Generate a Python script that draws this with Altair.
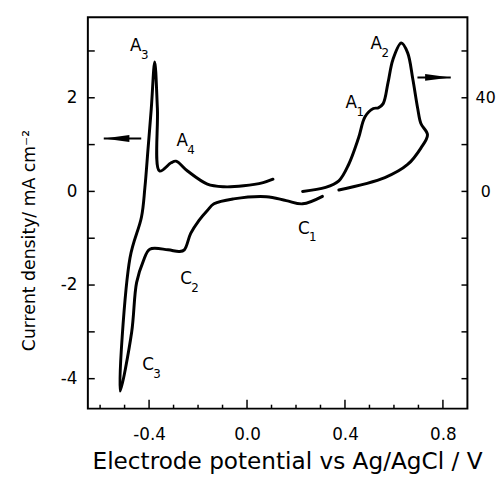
import altair as alt
import pandas as pd

# ---------------- data ----------------
# left-axis segment (mA cm-2), in sweep order
left_potential = [0.308, 0.227, 0.160, 0.079, -0.055, -0.135, -0.162, -0.196, -0.230,
                  -0.256, -0.276, -0.323, -0.397, -0.424, -0.451, -0.471, -0.518,
                  -0.478, -0.431, -0.417, -0.404, -0.391, -0.377, -0.366, -0.357,
                  -0.310, -0.290, -0.243, -0.162, -0.095, -0.014, 0.066, 0.106]
left_current = [-0.105, -0.265, -0.196, -0.112, -0.160, -0.265, -0.406, -0.617, -0.897,
                -1.248, -1.284, -1.248, -1.234, -1.495, -1.949, -3.002, -4.265,
                -1.423, -0.547, 0.084, 0.926, 1.768, 2.766, 1.768, 0.436,
                0.611, 0.646, 0.436, 0.156, 0.099, 0.120, 0.189, 0.261]

# right-axis segment, in sweep order
right_potential = [0.227, 0.321, 0.375, 0.415, 0.455, 0.482, 0.516, 0.536, 0.556, 0.576,
                   0.596, 0.630, 0.656, 0.677, 0.697, 0.710, 0.737, 0.710, 0.656, 0.563,
                   0.375]
right_current = [0.0, 1.7, 4.5, 11.5, 22.7, 31.9, 35.4, 35.7, 37.5, 46.6,
                 56.4, 63.4, 59.2, 48.0, 35.4, 29.0, 24.2, 18.5, 11.5, 5.9,
                 0.6]

# peak labels (position in left-axis units)
peak_letter = ["A", "A", "A", "A", "C", "C", "C"]
peak_sub = ["1", "2", "3", "4", "1", "2", "3"]
peak_x = [0.426, 0.528, -0.454, -0.265, 0.232, -0.249, -0.404]
peak_y = [1.89, 3.15, 3.10, 1.07, -0.796, -1.87, -3.72]

# arrows (which axis each branch belongs to)
left_arrow_x = [-0.585, -0.432]
left_arrow_y = [1.13, 1.13]
right_arrow_x = [0.832, 0.696]
right_arrow_y = [48.7, 48.7]

# axes ticks
x_major = [-0.4, 0.0, 0.4, 0.8]
x_minor = [-0.6, -0.5, -0.3, -0.2, -0.1, 0.1, 0.2, 0.3, 0.5, 0.6, 0.7]
yl_ticks = [-4, -3, -2, -1, 0, 1, 2, 3]
yl_labels = [-4, -2, 0, 2]
yr_ticks = [-80, -60, -40, -20, 0, 20, 40, 60]
yr_labels = [0, 40]

x_domain = [-0.65, 0.90]
yl_domain = [-4.64, 3.72]
yr_domain = [-92.8, 74.4]

# ---------------- chart ----------------
W, H = 385, 397
FONT = "DejaVu Sans"
MINUS = "datum.value < 0 ? '-' + format(-datum.value, '{f}') : format(datum.value, '{f}')"

xscale = alt.Scale(domain=x_domain, nice=False, zero=False)
ylscale = alt.Scale(domain=yl_domain, nice=False, zero=False)
yrscale = alt.Scale(domain=yr_domain, nice=False, zero=False)

xaxis = alt.Axis(values=x_major, labelExpr=MINUS.format(f=".1f"), ticks=False, tickSize=0,
                 domain=False, grid=False, labelFont=FONT, labelFontSize=17,
                 labelColor="black", labelPadding=31, labelBaseline="alphabetic",
                 title="Electrode potential vs Ag/AgCl / V", titleFont=FONT,
                 titleFontSize=23.5, titleFontWeight="normal", titleColor="black",
                 titleX=202, titleY=61, titleBaseline="alphabetic", titleAlign="center")

ylaxis = alt.Axis(orient="left", values=yl_labels, labelExpr=MINUS.format(f="d"),
                  ticks=False, tickSize=0, domain=False, grid=False, labelFont=FONT,
                  labelFontSize=17, labelColor="black", labelPadding=11,
                  title="Current density/ mA cm\u207b\u00b2", titleFont=FONT,
                  titleFontSize=17.5, titleFontWeight="normal", titleColor="black",
                  titleX=-54, titleY=226, titleAngle=270, titleBaseline="alphabetic",
                  titleAlign="center")

yraxis = alt.Axis(orient="right", values=yr_labels, format="d", ticks=False, tickSize=0,
                  domain=False, grid=False, labelFont=FONT, labelFontSize=16,
                  labelColor="black", labelAlign="center", labelPadding=18, title=None)

X = lambda f="x": alt.X(f"{f}:Q", scale=xscale, axis=xaxis)
YL = lambda f="y": alt.Y(f"{f}:Q", scale=ylscale, axis=ylaxis)
YR = lambda f="y": alt.Y(f"{f}:Q", scale=yrscale, axis=yraxis)

df_left = pd.DataFrame({"x": left_potential, "y": left_current, "i": range(len(left_potential))})
df_right = pd.DataFrame({"x": right_potential, "y": right_current, "i": range(len(right_potential))})
df_peaks = pd.DataFrame({"x": peak_x, "y": peak_y, "letter": peak_letter, "sub": peak_sub})
df_xmaj = pd.DataFrame({"x": x_major})
df_xmin = pd.DataFrame({"x": x_minor})
df_yl = pd.DataFrame({"y": yl_ticks})
df_yr = pd.DataFrame({"y": yr_ticks})
df_la = pd.DataFrame({"x": left_arrow_x, "y": left_arrow_y, "i": [0, 1]})
df_ra = pd.DataFrame({"x": right_arrow_x, "y": right_arrow_y, "i": [0, 1]})

line_style = dict(color="black", strokeWidth=3, strokeJoin="round", strokeCap="round",
                  interpolate="catmull-rom")

curve_left = alt.Chart(df_left).mark_line(**line_style).encode(x=X(), y=YL(), order="i:Q")
curve_right = alt.Chart(df_right).mark_line(**line_style).encode(x=X(), y=YR(), order="i:Q")

xt_major = alt.Chart(df_xmaj).mark_rule(color="black", strokeWidth=1.5).encode(
    x=X(), y=alt.value(H), y2=alt.value(H - 9))
xt_minor = alt.Chart(df_xmin).mark_rule(color="black", strokeWidth=1.5).encode(
    x=X(), y=alt.value(H), y2=alt.value(H - 4))
ylt = alt.Chart(df_yl).mark_rule(color="black", strokeWidth=1.5).encode(
    y=YL(), x=alt.value(0), x2=alt.value(7))
yrt = alt.Chart(df_yr).mark_rule(color="black", strokeWidth=1.5).encode(
    y=YR(), x=alt.value(W - 6), x2=alt.value(W))

letters = alt.Chart(df_peaks).mark_text(font=FONT, fontSize=17, color="black",
                                        align="center", baseline="middle").encode(
    x=X(), y=YL(), text="letter:N")
subs = alt.Chart(df_peaks).mark_text(font=FONT, fontSize=12, color="black", align="center",
                                     baseline="middle", dx=9, dy=9).encode(
    x=X(), y=YL(), text="sub:N")

la_line = alt.Chart(df_la).mark_line(color="black", strokeWidth=2).encode(
    x=X(), y=YL(), order="i:Q")
la_head = alt.Chart(df_la.iloc[[0]]).mark_point(
    shape="M0,0L2,-0.27L2,0.27Z", size=676, filled=True, color="black", opacity=1,
    strokeWidth=0).encode(x=X(), y=YL())
ra_line = alt.Chart(df_ra).mark_line(color="black", strokeWidth=2).encode(
    x=X(), y=YR(), order="i:Q")
ra_head = alt.Chart(df_ra.iloc[[0]]).mark_point(
    shape="M0,0L-2,-0.27L-2,0.27Z", size=676, filled=True, color="black", opacity=1,
    strokeWidth=0).encode(x=X(), y=YR())

left_group = alt.layer(curve_left, ylt, xt_major, xt_minor, letters, subs, la_line, la_head)
right_group = alt.layer(curve_right, yrt, ra_line, ra_head)

chart = alt.layer(left_group, right_group).resolve_scale(y="independent").properties(
    width=W, height=H,
    autosize=alt.AutoSizeParams(type="none"),
    padding={"left": 81, "top": 6, "right": 29, "bottom": 69},
).configure_view(stroke="black", strokeWidth=2)

chart.save("out.html", embed_options={"renderer": "svg", "actions": False})
